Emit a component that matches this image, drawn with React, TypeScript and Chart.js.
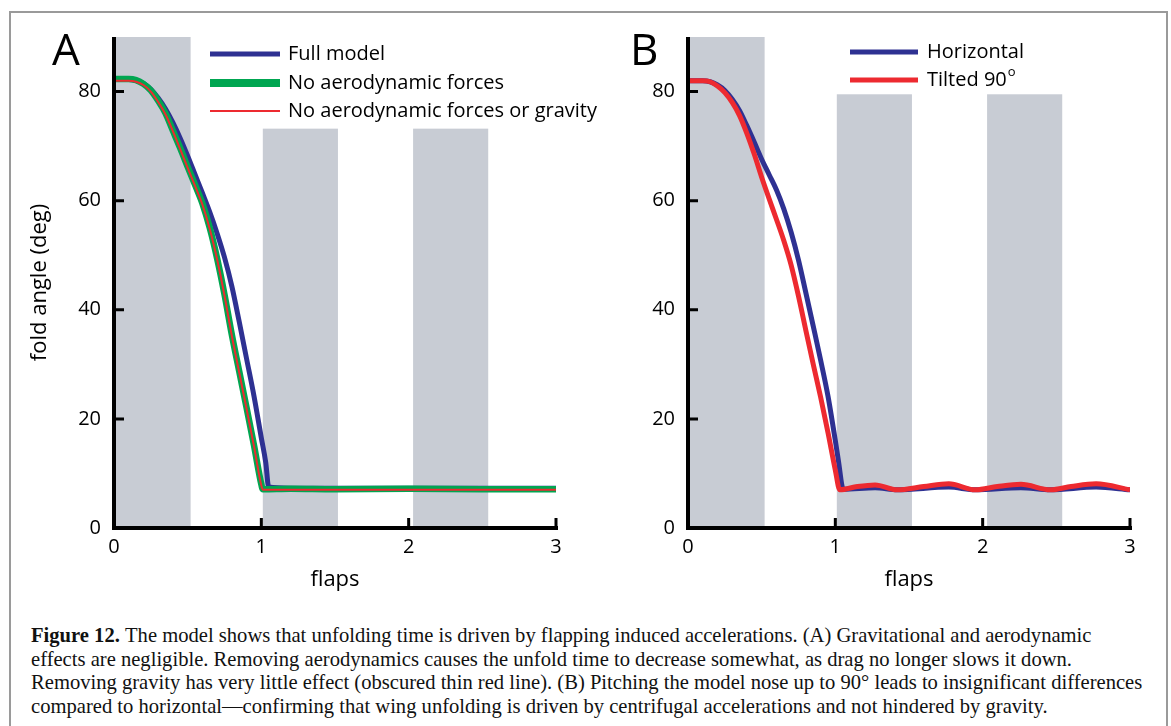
import React, { useEffect, useRef } from "react";
import { Chart, registerables } from "chart.js";

Chart.register(...registerables);

// ---------------- data ----------------
const xTicks = [0, 1, 2, 3];
const yTicks = [0, 20, 40, 60, 80];

const bandStarts = [0, 1.01, 2.03];
const bandEnds = [0.52, 1.52, 2.54];
const bandTopsA = [90, 73.2, 73.2];
const bandTopsB = [90, 79.5, 79.5];

// Panel A
const fullX = [0, 0.1, 0.15, 0.2, 0.25, 0.3, 0.35, 0.4, 0.45, 0.5, 0.55, 0.6, 0.65, 0.7, 0.75, 0.8, 0.85, 0.9, 0.95, 1.0, 1.03, 1.05, 1.2, 1.5, 2.0, 2.5, 3.0];
const fullY = [82.2, 82.2, 82.0, 81.5, 80.4, 78.8, 76.8, 74.3, 71.4, 68.2, 64.8, 61.4, 57.9, 54.0, 49.6, 44.3, 37.8, 31.0, 24.2, 16.5, 12.0, 7.5, 7.3, 7.3, 7.3, 7.3, 7.3];

const noAeroX = [0, 0.1, 0.15, 0.2, 0.25, 0.3, 0.35, 0.4, 0.45, 0.5, 0.55, 0.6, 0.65, 0.7, 0.75, 0.8, 0.85, 0.9, 0.95, 1.0, 1.01, 1.2, 1.5, 2.0, 2.5, 3.0];
const noAeroY = [82.3, 82.3, 82.1, 81.4, 80.2, 78.3, 76.0, 72.8, 69.6, 66.2, 62.9, 59.5, 55.0, 49.4, 42.8, 35.4, 28.7, 22.0, 15.2, 8.0, 7.1, 7.2, 7.1, 7.2, 7.1, 7.1];

const noAeroGravX = [0, 0.1, 0.15, 0.2, 0.25, 0.3, 0.35, 0.4, 0.45, 0.5, 0.55, 0.6, 0.65, 0.7, 0.75, 0.8, 0.85, 0.9, 0.95, 1.0, 1.01, 1.2, 1.5, 2.0, 2.5, 3.0];
const noAeroGravY = [82.0, 82.0, 81.8, 81.2, 80.0, 78.1, 75.8, 72.7, 69.4, 66.0, 62.7, 59.3, 54.8, 49.2, 42.6, 35.2, 28.5, 21.8, 15.0, 7.8, 7.0, 7.0, 7.0, 7.0, 7.0, 7.0];

// Panel B
const horizX = [0, 0.1, 0.15, 0.2, 0.25, 0.3, 0.35, 0.4, 0.45, 0.5, 0.55, 0.6, 0.65, 0.7, 0.75, 0.8, 0.85, 0.9, 0.95, 1.0, 1.02, 1.054, 1.27, 1.42, 1.77, 1.95, 2.26, 2.46, 2.77, 3.0];
const horizY = [82.0, 82.0, 81.8, 81.2, 80.2, 78.6, 76.5, 73.7, 70.7, 67.6, 64.8, 62.0, 58.5, 54.2, 49.1, 43.1, 37.0, 30.8, 24.2, 16.0, 12.5, 7.1, 7.4, 7.0, 7.5, 7.0, 7.4, 7.0, 7.5, 7.0];

const tiltX = [0, 0.1, 0.15, 0.2, 0.25, 0.3, 0.35, 0.4, 0.45, 0.5, 0.55, 0.6, 0.65, 0.7, 0.75, 0.8, 0.85, 0.9, 0.95, 1.0, 1.03, 1.15, 1.27, 1.42, 1.6, 1.77, 1.95, 2.1, 2.26, 2.46, 2.6, 2.77, 3.0];
const tiltY = [82.0, 82.0, 81.8, 81.0, 79.8, 78.0, 75.6, 72.3, 68.5, 64.3, 60.4, 56.6, 52.7, 48.2, 42.5, 36.2, 30.0, 24.0, 17.5, 10.6, 7.0, 7.6, 7.9, 7.0, 7.6, 8.1, 7.0, 7.6, 8.0, 7.0, 7.6, 8.1, 7.0];

const legendLabelsA = ["Full model", "No aerodynamic forces", "No aerodynamic forces or gravity"];
const legendLabelsB = ["Horizontal", "Tilted 90"];

const yAxisTitle = "fold angle (deg)";
const xAxisTitle = "flaps";

const captionLines = [
  "The model shows that unfolding time is driven by flapping induced accelerations. (A) Gravitational and aerodynamic",
  "effects are negligible. Removing aerodynamics causes the unfold time to decrease somewhat, as drag no longer slows it down.",
  "Removing gravity has very little effect (obscured thin red line). (B) Pitching the model nose up to 90° leads to insignificant differences",
  "compared to horizontal\u2014confirming that wing unfolding is driven by centrifugal accelerations and not hindered by gravity.",
];

// ---------------- styles ----------------
const BLUE = "#2e3192";
const GREEN = "#00a651";
const RED = "#ed2a30";
const BAND = "#c8ccd4";
const SANS = "'Open Sans', 'Noto Sans', sans-serif";

const pts = (xs: number[], ys: number[]) => xs.map((x, i) => ({ x, y: ys[i] }));

type LegendItem = { text: string; color: string; width: number; sup?: string };

function makeConfig(opts: {
  series: { label: string; xs: number[]; ys: number[]; color: string; width: number; order: number }[];
  bandTops: number[];
  yWidth: number;
  padRight: number;
  yTitle?: string;
  letter: string;
  letterX: number;
  legend: LegendItem[];
  legendLineX0: number;
  legendLineX1: number;
  legendTextX: number;
  legendRows: number[];
}) {
  const decor = {
    id: "decor",
    beforeDraw(chart: any) {
      const { ctx, scales } = chart;
      const x = scales.x, y = scales.y;
      ctx.save();
      ctx.fillStyle = BAND;
      for (let i = 0; i < bandStarts.length; i++) {
        const x0 = x.getPixelForValue(bandStarts[i]);
        const x1 = x.getPixelForValue(bandEnds[i]);
        const yt = y.getPixelForValue(opts.bandTops[i]);
        const yb = y.getPixelForValue(0);
        ctx.fillRect(x0, yt, x1 - x0, yb - yt);
      }
      ctx.restore();
    },
    afterDraw(chart: any) {
      const { ctx, scales } = chart;
      const x = scales.x, y = scales.y;
      ctx.save();
      ctx.strokeStyle = "#000";
      ctx.lineCap = "butt";
      // axes
      const x0 = x.getPixelForValue(0);
      const x3 = x.getPixelForValue(3);
      const y0 = y.getPixelForValue(0);
      const yTop = y.getPixelForValue(90);
      ctx.lineWidth = 4;
      ctx.beginPath();
      ctx.moveTo(x0, yTop);
      ctx.lineTo(x0, y0 + 2);
      ctx.moveTo(x0 - 2, y0);
      ctx.lineTo(x3 + 2, y0);
      ctx.stroke();
      // inward ticks
      ctx.lineWidth = 3;
      ctx.beginPath();
      for (const v of yTicks) {
        const py = y.getPixelForValue(v);
        ctx.moveTo(x0, py);
        ctx.lineTo(x0 + 10, py);
      }
      for (const v of xTicks) {
        const px = x.getPixelForValue(v);
        ctx.moveTo(px, y0);
        ctx.lineTo(px, y0 - 10);
      }
      ctx.stroke();
      // legend
      ctx.textBaseline = "middle";
      ctx.textAlign = "left";
      ctx.fillStyle = "#000";
      opts.legend.forEach((it, i) => {
        const ry = opts.legendRows[i];
        ctx.strokeStyle = it.color;
        ctx.lineWidth = it.width;
        ctx.beginPath();
        ctx.moveTo(opts.legendLineX0, ry);
        ctx.lineTo(opts.legendLineX1, ry);
        ctx.stroke();
        ctx.font = `20px ${SANS}`;
        ctx.fillText(it.text, opts.legendTextX, ry);
        if (it.sup) {
          const w = ctx.measureText(it.text).width;
          ctx.font = `13px ${SANS}`;
          ctx.fillText(it.sup, opts.legendTextX + w + 1, ry - 8);
        }
      });
      // panel letter
      ctx.font = `44px ${SANS}`;
      ctx.textBaseline = "alphabetic";
      ctx.fillText(opts.letter, opts.letterX, 65);
      ctx.restore();
    },
  };

  return {
    type: "line" as const,
    data: {
      datasets: opts.series.map((s) => ({
        label: s.label,
        data: pts(s.xs, s.ys),
        borderColor: s.color,
        backgroundColor: s.color,
        borderWidth: s.width,
        pointRadius: 0,
        cubicInterpolationMode: "monotone" as const,
        fill: false,
        order: s.order,
      })),
    },
    options: {
      responsive: false,
      animation: false as const,
      events: [],
      layout: { padding: { top: 37, right: opts.padRight, bottom: 0, left: 0 } },
      plugins: { legend: { display: false }, tooltip: { enabled: false } },
      scales: {
        x: {
          type: "linear" as const,
          min: 0,
          max: 3,
          afterBuildTicks: (s: any) => {
            s.ticks = xTicks.map((v) => ({ value: v }));
          },
          afterFit: (s: any) => {
            s.height = 72;
          },
          grid: { display: false, drawTicks: false },
          border: { display: false },
          ticks: { color: "#000", font: { family: SANS, size: 20 }, padding: 7, autoSkip: false, maxRotation: 0 },
          title: { display: true, text: xAxisTitle, color: "#000", font: { family: SANS, size: 22 }, padding: { top: 0, bottom: 7 } },
        },
        y: {
          type: "linear" as const,
          min: 0,
          max: 90,
          afterBuildTicks: (s: any) => {
            s.ticks = yTicks.map((v) => ({ value: v }));
          },
          afterFit: (s: any) => {
            s.width = opts.yWidth;
          },
          grid: { display: false, drawTicks: false },
          border: { display: false },
          ticks: { color: "#000", font: { family: SANS, size: 20 }, padding: 13 },
          title: {
            display: !!opts.yTitle,
            text: opts.yTitle || "",
            color: "#000",
            font: { family: SANS, size: 22 },
            padding: { top: 27, bottom: 0 },
          },
        },
      },
    },
    plugins: [decor],
  };
}

function ChartCanvas({ left, width, config }: { left: number; width: number; config: () => any }) {
  const ref = useRef<HTMLCanvasElement | null>(null);
  useEffect(() => {
    if (!ref.current) return;
    const chart = new Chart(ref.current, config());
    return () => chart.destroy();
  }, []);
  return (
    <canvas
      ref={ref}
      width={width}
      height={600}
      style={{ position: "absolute", left, top: 0, width, height: 600 }}
    />
  );
}

export default function App() {
  const configA = () =>
    makeConfig({
      series: [
        { label: legendLabelsA[0], xs: fullX, ys: fullY, color: BLUE, width: 5, order: 2 },
        { label: legendLabelsA[1], xs: noAeroX, ys: noAeroY, color: GREEN, width: 6.5, order: 1 },
        { label: legendLabelsA[2], xs: noAeroGravX, ys: noAeroGravY, color: RED, width: 2, order: 0 },
      ],
      bandTops: bandTopsA,
      yWidth: 114,
      padRight: 64,
      yTitle: yAxisTitle,
      letter: "A",
      letterX: 52,
      legend: [
        { text: legendLabelsA[0], color: BLUE, width: 5 },
        { text: legendLabelsA[1], color: GREEN, width: 8 },
        { text: legendLabelsA[2], color: RED, width: 2 },
      ],
      legendLineX0: 210,
      legendLineX1: 280,
      legendTextX: 288,
      legendRows: [54, 83, 111],
    });
  const configB = () =>
    makeConfig({
      series: [
        { label: legendLabelsB[0], xs: horizX, ys: horizY, color: BLUE, width: 5, order: 1 },
        { label: legendLabelsB[1], xs: tiltX, ys: tiltY, color: RED, width: 5, order: 0 },
      ],
      bandTops: bandTopsB,
      yWidth: 108,
      padRight: 30,
      letter: "B",
      letterX: 50,
      legend: [
        { text: legendLabelsB[0], color: BLUE, width: 5 },
        { text: legendLabelsB[1], color: RED, width: 5, sup: "o" },
      ],
      legendLineX0: 270,
      legendLineX1: 338,
      legendTextX: 347,
      legendRows: [52, 80],
    });

  return (
    <div style={{ position: "absolute", left: 0, top: 0, width: 1171, height: 726, overflow: "hidden", background: "#fff" }}>
      <div
        style={{
          position: "absolute",
          left: 9,
          top: 11,
          width: 1159,
          height: 760,
          border: "2px solid #9a9a9a",
          boxSizing: "border-box",
        }}
      />
      <ChartCanvas left={0} width={620} config={configA} />
      <ChartCanvas left={580} width={580} config={configB} />
      <div
        style={{
          position: "absolute",
          left: 31,
          top: 624,
          fontFamily: "'Liberation Serif', 'DejaVu Serif', serif",
          fontSize: 20.6,
          lineHeight: "23.7px",
          color: "#111",
          whiteSpace: "nowrap",
        }}
      >
        {captionLines.map((line, i) => (
          <div key={i}>
            {i === 0 ? <b>Figure 12. </b> : null}
            {line}
          </div>
        ))}
      </div>
    </div>
  );
}
